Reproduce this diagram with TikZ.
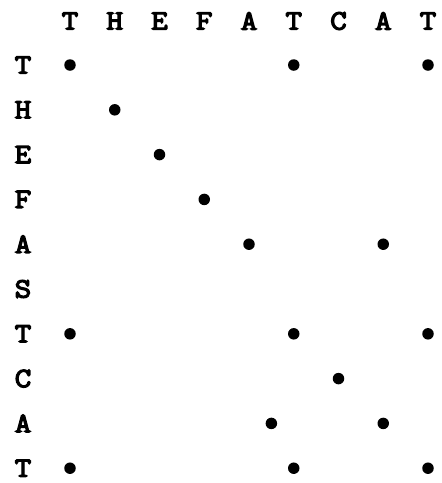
\documentclass[tikz,border=0pt]{standalone}
\usepackage{fontspec}
\newfontfamily\courbold{Latin Modern Mono}[FakeBold=4.5,FakeStretch=1.15]
\begin{document}
\begin{tikzpicture}[x=1pt,y=-1pt,
  lbl/.style={font=\courbold\fontsize{28}{30}\selectfont,inner sep=0pt,anchor=center},
  dot/.style={circle,fill=black,inner sep=0pt,minimum size=11.5pt}]
\useasboundingbox (0,0) rectangle (442,483);
% column headers
\foreach \c [count=\j] in {T,H,E,F,A,T,C,A,T}
  \node[lbl] (c\j) at ({70+44.75*(\j-1)},21) {\c};
% row labels
\foreach \r [count=\i] in {T,H,E,F,A,S,T,C,A,T}
  \node[lbl] (r\i) at (23,{65+44.8*(\i-1)}) {\r};
% dots: (row, column)
\foreach \i/\j in {1/1,1/6,1/9,2/2,3/3,4/4,5/5,5/8,7/1,7/6,7/9,8/7,9/8,10/1,10/6,10/9}
  \node[dot] (d\i-\j) at (c\j |- r\i) {};
\node[dot] (d9-x) at ({(70+44.75*4+70+44.75*5)/2}, {65+44.8*8}) {};
\end{tikzpicture}
\end{document}
